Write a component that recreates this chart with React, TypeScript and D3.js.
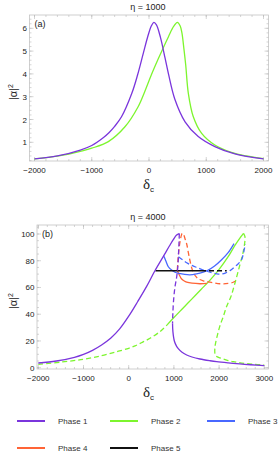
import React, { useRef, useEffect } from 'react'
import * as d3 from 'd3'

// ---- data ----
type Pt = [number, number]

// panel (a), eta = 1000
const aPhase1: Pt[] = [
  [-2000, 0.27], [-1600, 0.4], [-1200, 0.66], [-1000, 0.86], [-800, 1.2], [-700, 1.42], [-600, 1.7],
  [-480, 2.12], [-300, 3.15], [-200, 3.95], [-100, 4.9], [-20, 5.65], [40, 6.1], [85, 6.26], [130, 6.15],
  [200, 5.6], [280, 4.7], [340, 4.0], [450, 2.9], [630, 1.9], [860, 1.25], [1150, 0.81], [1500, 0.49],
  [2000, 0.27],
]
const aPhase2: Pt[] = [
  [-2000, 0.27], [-1600, 0.39], [-1400, 0.48], [-1200, 0.6], [-1000, 0.74], [-710, 1.03], [-420, 1.68],
  [-190, 2.56], [-70, 3.25], [40, 3.95], [160, 4.65], [250, 5.15], [340, 5.63], [430, 6.08], [495, 6.26],
  [545, 6.1], [575, 5.8], [610, 5.1], [641, 4.4], [687, 3.15], [774, 2.12], [920, 1.39], [1150, 0.88],
  [1440, 0.56], [1700, 0.4], [2000, 0.28],
]

// panel (b), eta = 4000
const bPhase1Upper: Pt[] = [
  [-2000, 3.5], [-1600, 5.0], [-1200, 7.8], [-1000, 10.0], [-800, 13.0], [-600, 17], [-400, 22],
  [-200, 29], [0, 38.5], [200, 49.5], [400, 61], [580, 72.5], [780, 84], [900, 91], [990, 96],
  [1060, 99.2], [1120, 100.3],
]
const bPhase1Middle: Pt[] = [
  [1120, 100.3], [1116, 96], [1106, 88], [1092, 78], [1062, 68], [1022, 60], [992, 50], [976, 40], [970, 33],
]
const bPhase1Lower: Pt[] = [
  [970, 33], [978, 27], [1010, 20], [1060, 16], [1097, 14.3], [1180, 11.5], [1283, 9.5], [1400, 8],
  [1577, 6.5], [1800, 5.2], [1947, 4.5], [2200, 3.6], [2460, 2.8], [2700, 2.2], [3000, 1.5],
]
const bPhase2Lower: Pt[] = [
  [-2000, 2.5], [-1500, 4.2], [-1000, 6.3], [-600, 9], [-265, 12], [0, 14.5], [140, 16.3], [300, 19],
  [471, 22], [692, 27], [850, 32],
]
const bPhase2Upper: Pt[] = [
  [850, 32], [1000, 37.5], [1200, 44.5], [1400, 51.5], [1600, 58.5], [1800, 65.5], [2000, 73.5],
  [2200, 83], [2350, 91.5], [2460, 97], [2540, 100.5],
]
const bPhase2Fold: Pt[] = [
  [2540, 100.5], [2572, 98], [2565, 93], [2535, 87], [2500, 82], [2425, 72.5], [2340, 62], [2260, 53],
  [2168, 46], [2090, 38], [2020, 31.5], [1960, 24], [1920, 18], [1905, 14], [1906, 11], [1925, 9],
  [2020, 7.3], [2150, 5.9], [2314, 4.5], [2500, 3.5], [2750, 2.6], [3000, 2],
]
const bPhase3Solid: Pt[] = [
  [770, 84], [820, 80], [877, 75.5], [950, 73], [1024, 71.4], [1100, 70.6], [1208, 70], [1350, 69.5],
  [1500, 70.2], [1650, 71.5], [1750, 72.8], [1900, 76], [2050, 80.5], [2200, 86], [2330, 92.8],
]
const bPhase3Dashed: Pt[] = [
  [1100, 83], [1200, 80.5], [1283, 78.5], [1400, 76.5], [1504, 75], [1650, 73], [1800, 71.4], [1950, 70.2],
  [2050, 70], [2150, 71], [2241, 72.6], [2330, 75], [2425, 77.8], [2500, 81], [2535, 85], [2560, 89],
  [2575, 92.5],
]
const bPhase4Dashed: Pt[] = [
  [1075, 73], [1090, 80], [1110, 88], [1140, 95], [1165, 99], [1186, 100.5], [1215, 99.5], [1250, 96],
  [1283, 92.5], [1320, 86], [1356, 80], [1400, 74], [1429, 71.4], [1480, 68.5], [1540, 66.5], [1650, 65],
  [1800, 64], [2020, 62.8], [2200, 63], [2314, 63.9], [2352, 64.6],
]
const bPhase4Solid: Pt[] = [
  [1075, 73], [1097, 71], [1140, 68], [1172, 66.3], [1230, 64.8], [1283, 64], [1400, 63.2], [1577, 62.8],
  [1730, 63],
]
const bPhase5Solid: Pt[] = [[590, 72.6], [1600, 72.6]]
const bPhase5Dashed: Pt[] = [[1600, 72.6], [2168, 72.6]]

const phaseNames = ['Phase 1', 'Phase 2', 'Phase 3', 'Phase 4', 'Phase 5']
const phaseColors = ['#7a35dc', '#7df52e', '#4868ff', '#ff6436', '#111111']

const aXTicks = [-2000, -1000, 0, 1000, 2000]
const aYTicks = [1, 2, 3, 4, 5, 6]
const bXTicks = [-2000, -1000, 0, 1000, 2000, 3000]
const bYTicks = [0, 20, 40, 60, 80, 100]

const FONT = '"Liberation Sans", Arial, sans-serif'

export const Chart: React.FC = () => {
  const ref = useRef<SVGSVGElement>(null)

  useEffect(() => {
    const svg = d3.select(ref.current)
    svg.selectAll('*').remove()

    const drawPanel = (opts: any) => {
      const { frame, x, y, xTicks, yTicks, xMinor, yMinor, title, tag, curves } = opts
      const g = svg.append('g')
      // frame
      g.append('rect')
        .attr('x', frame.x0).attr('y', frame.y0)
        .attr('width', frame.x1 - frame.x0).attr('height', frame.y1 - frame.y0)
        .attr('fill', 'none').attr('stroke', '#c4c4c4').attr('stroke-width', 0.8)

      const tickCol = '#b8b8b8'
      const xT = (vals: number[], len: number) => {
        vals.forEach(v => {
          const px = x(v)
          if (px < frame.x0 || px > frame.x1) return
          g.append('line').attr('x1', px).attr('x2', px).attr('y1', frame.y1).attr('y2', frame.y1 - len)
            .attr('stroke', tickCol).attr('stroke-width', 0.6)
          g.append('line').attr('x1', px).attr('x2', px).attr('y1', frame.y0).attr('y2', frame.y0 + len)
            .attr('stroke', tickCol).attr('stroke-width', 0.6)
        })
      }
      const yT = (vals: number[], len: number) => {
        vals.forEach(v => {
          const py = y(v)
          if (py < frame.y0 || py > frame.y1) return
          g.append('line').attr('y1', py).attr('y2', py).attr('x1', frame.x0).attr('x2', frame.x0 + len)
            .attr('stroke', tickCol).attr('stroke-width', 0.6)
          g.append('line').attr('y1', py).attr('y2', py).attr('x1', frame.x1).attr('x2', frame.x1 - len)
            .attr('stroke', tickCol).attr('stroke-width', 0.6)
        })
      }
      xT(xMinor, 2)
      xT(xTicks, 4)
      yT(yMinor, 2)
      yT(yTicks, 4)

      g.selectAll('text.xt').data(xTicks).join('text')
        .attr('x', (d: number) => x(d)).attr('y', frame.y1 + 12)
        .attr('text-anchor', 'middle').attr('font-family', FONT).attr('font-size', 8).attr('fill', '#222')
        .text((d: number) => (d < 0 ? '\u2212' + Math.abs(d) : String(d)))
      g.selectAll('text.yt').data(yTicks).join('text')
        .attr('x', frame.x0 - 2.5).attr('y', (d: number) => y(d) + 3)
        .attr('text-anchor', 'end').attr('font-family', FONT).attr('font-size', 8).attr('fill', '#222')
        .text((d: number) => String(d))

      // title
      g.append('text').attr('x', 148).attr('y', frame.y0 - 5).attr('text-anchor', 'middle')
        .attr('font-family', FONT).attr('font-size', 9).attr('fill', '#222').text(title)
      g.append('text').attr('x', frame.x0 + 5).attr('y', frame.y0 + 12)
        .attr('font-family', FONT).attr('font-size', 9).attr('fill', '#222').text(tag)

      // axis labels
      const xl = g.append('text').attr('x', 143).attr('y', frame.y1 + 28)
        .attr('font-family', '"Liberation Serif", serif').attr('font-size', 15).attr('fill', '#222')
      xl.append('tspan').text('\u03b4')
      xl.append('tspan').attr('font-family', FONT).attr('font-size', 8).attr('dy', 3).text('c')

      const cy = (frame.y0 + frame.y1) / 2 + 4
      const yl = g.append('text').attr('transform', `translate(17,${cy}) rotate(-90)`)
        .attr('text-anchor', 'middle').attr('font-family', FONT).attr('font-size', 11).attr('fill', '#222')
      yl.append('tspan').text('|\u03b1|')
      yl.append('tspan').attr('font-size', 7).attr('dy', -4).text('2')

      // curves
      const line = d3.line<Pt>().x(d => x(d[0])).y(d => y(d[1])).curve(d3.curveCatmullRom.alpha(0.5))
      curves.forEach((c: any) => {
        g.append('path').datum(c.data).attr('d', line)
          .attr('fill', 'none').attr('stroke', phaseColors[c.phase])
          .attr('stroke-width', c.phase === 4 ? 1.5 : 1.3)
          .attr('stroke-dasharray', c.dash ? '5,3' : null)
      })
    }

    // panel (a)
    drawPanel({
      frame: { x0: 29.5, x1: 268.5, y0: 15, y1: 161 },
      x: d3.scaleLinear().domain([-2000, 2000]).range([34.5, 263.5]),
      y: d3.scaleLinear().domain([0, 6]).range([165.1, 28.3]),
      xTicks: aXTicks,
      yTicks: aYTicks,
      xMinor: d3.range(-2000, 2001, 200),
      yMinor: d3.range(0, 6.6, 0.2),
      title: '\u03b7 = 1000',
      tag: '(a)',
      curves: [
        { data: aPhase2, phase: 1 },
        { data: aPhase1, phase: 0 },
      ],
    })

    // panel (b)
    drawPanel({
      frame: { x0: 37, x1: 268.5, y0: 225, y1: 369 },
      x: d3.scaleLinear().domain([-2000, 3000]).range([38.3, 264.3]),
      y: d3.scaleLinear().domain([0, 100]).range([367.7, 234]),
      xTicks: bXTicks,
      yTicks: bYTicks,
      xMinor: d3.range(-2000, 3001, 200),
      yMinor: d3.range(0, 106, 5),
      title: '\u03b7 = 4000',
      tag: '(b)',
      curves: [
        { data: bPhase2Lower, phase: 1, dash: true },
        { data: bPhase2Upper, phase: 1 },
        { data: bPhase2Fold, phase: 1, dash: true },
        { data: bPhase4Solid, phase: 3 },
        { data: bPhase4Dashed, phase: 3, dash: true },
        { data: bPhase3Solid, phase: 2 },
        { data: bPhase3Dashed, phase: 2, dash: true },
        { data: bPhase5Solid, phase: 4 },
        { data: bPhase5Dashed, phase: 4, dash: true },
        { data: bPhase1Upper, phase: 0 },
        { data: bPhase1Middle, phase: 0, dash: true },
        { data: bPhase1Lower, phase: 0 },
      ],
    })

    // legend
    const legX = [17, 110, 207]
    const legY = [421, 448]
    phaseNames.forEach((name, i) => {
      const col = i % 3
      const row = Math.floor(i / 3)
      const lg = svg.append('g').attr('transform', `translate(${legX[col]},${legY[row]})`)
      lg.append('line').attr('x1', 0).attr('x2', 28).attr('y1', 0).attr('y2', 0)
        .attr('stroke', phaseColors[i]).attr('stroke-width', 2)
      lg.append('text').attr('x', 41).attr('y', 3).attr('font-family', FONT).attr('font-size', 8)
        .attr('fill', '#333').text(name)
    })
  }, [])

  return <svg ref={ref} width={279} height={453} style={{ display: 'block' }}></svg>
}

const App: React.FC = () => {
  return (
    <div style={{ position: 'fixed', left: 0, top: 0, width: 279, height: 453, background: '#fff' }}>
      <Chart />
    </div>
  )
}

export default App
